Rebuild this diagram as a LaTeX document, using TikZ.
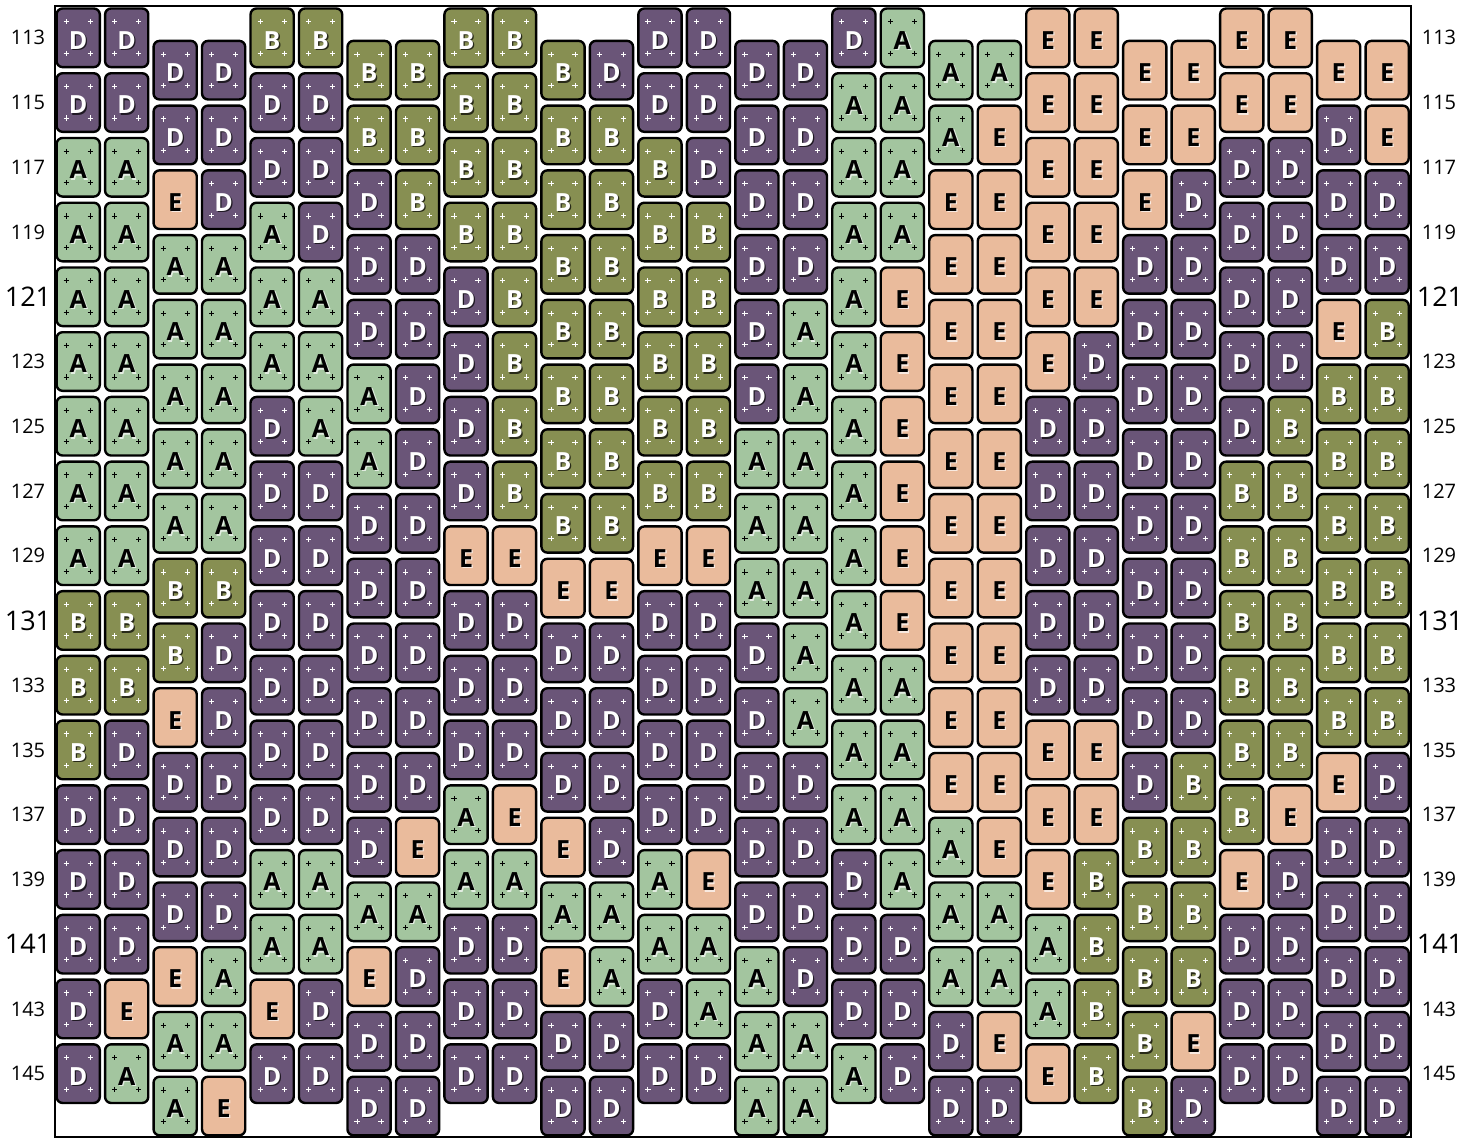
\documentclass[tikz,border=0pt]{standalone}
\usepackage{fontspec}
\setmainfont{Open Sans}
\definecolor{cA}{HTML}{A3C59F}
\definecolor{cB}{HTML}{878F52}
\definecolor{cD}{HTML}{6A5578}
\definecolor{cE}{HTML}{EABB9C}
\colorlet{fgA}{black}\colorlet{fgE}{black}\colorlet{fgB}{white}\colorlet{fgD}{white}
\colorlet{shA}{white}\colorlet{shE}{white}\colorlet{shB}{black}\colorlet{shD}{black}
\colorlet{mkA}{black}\colorlet{mkB}{white}\colorlet{mkD}{white}\colorlet{mkE}{white}
\tikzset{
  tilebox/.style={draw=black, line width=2.4pt, rounded corners=6pt, minimum width=43.2pt, minimum height=58.6pt, inner sep=0pt},
  glyph/.style={inner sep=0pt, font=\fontsize{25}{25}\selectfont\bfseries},
  pm/.style={line width=1pt},
  lab/.style={inner sep=0pt, font=\fontsize{20}{20}\selectfont},
  labbig/.style={inner sep=0pt, font=\fontsize{27}{27}\selectfont},
  frame/.style={draw=black, line width=2pt}
}
\newcommand\mytile[4]{%
  \pgfmathsetmacro\tx{78.2+48.48*(#1-1)}%
  \pgfmathsetmacro\ty{37.8+32.37*(#2+2*#3)}%
  \node[tilebox, fill=c#4] (t#1-#3) at (\tx,\ty) {};%
  \node[glyph, text=sh#4, opacity=0.7] (s#1-#3) at ([shift={(1.3,4)}]t#1-#3.center) {#4};%
  \node[glyph, text=fg#4] (g#1-#3) at ([shift={(0,2.5)}]t#1-#3.center) {#4};%
  \if E#4\else
    \foreach \mx/\my in {-12/-16,12/-16,-12/15.5,12/15.5}{%
      \draw[pm, draw=mk#4] ([shift={(\mx-2.6,\my)}]t#1-#3.center) -- ++(5.2,0)
        ([shift={(\mx,\my-2.6)}]t#1-#3.center) -- ++(0,5.2);}%
  \fi}
\newcommand\mkcol[3]{\foreach \L [count=\k from 0] in {#3} {\edef\tmp{\noexpand\mytile{#1}{#2}{\k}{\L}}\tmp}}
\begin{document}
\begin{tikzpicture}[x=1pt,y=-1pt]
\useasboundingbox (0,0) rectangle (1478,1140);
\fill[white] (0,0) rectangle (1478,1140);
\draw[frame] (55,6) rectangle (1411,1137);
\mkcol{1}{0}{D,D,A,A,A,A,A,A,A,B,B,B,D,D,D,D,D}
\mkcol{2}{0}{D,D,A,A,A,A,A,A,A,B,B,D,D,D,D,E,A}
\mkcol{3}{1}{D,D,E,A,A,A,A,A,B,B,E,D,D,D,E,A,A}
\mkcol{4}{1}{D,D,D,A,A,A,A,A,B,D,D,D,D,D,A,A,E}
\mkcol{5}{0}{B,D,D,A,A,A,D,D,D,D,D,D,D,A,A,E,D}
\mkcol{6}{0}{B,D,D,D,A,A,A,D,D,D,D,D,D,A,A,D,D}
\mkcol{7}{1}{B,B,D,D,D,A,A,D,D,D,D,D,D,A,E,D,D}
\mkcol{8}{1}{B,B,B,D,D,D,D,D,D,D,D,D,E,A,D,D,D}
\mkcol{9}{0}{B,B,B,B,D,D,D,D,E,D,D,D,A,A,D,D,D}
\mkcol{10}{0}{B,B,B,B,B,B,B,B,E,D,D,D,E,A,D,D,D}
\mkcol{11}{1}{B,B,B,B,B,B,B,B,E,D,D,D,E,A,E,D,D}
\mkcol{12}{1}{D,B,B,B,B,B,B,B,E,D,D,D,D,A,A,D,D}
\mkcol{13}{0}{D,D,B,B,B,B,B,B,E,D,D,D,D,A,A,D,D}
\mkcol{14}{0}{D,D,D,B,B,B,B,B,E,D,D,D,D,E,A,A,D}
\mkcol{15}{1}{D,D,D,D,D,D,A,A,A,D,D,D,D,D,A,A,A}
\mkcol{16}{1}{D,D,D,D,A,A,A,A,A,A,A,D,D,D,D,A,A}
\mkcol{17}{0}{D,A,A,A,A,A,A,A,A,A,A,A,A,D,D,D,A}
\mkcol{18}{0}{A,A,A,A,E,E,E,E,E,E,A,A,A,A,D,D,D}
\mkcol{19}{1}{A,A,E,E,E,E,E,E,E,E,E,E,A,A,A,D,D}
\mkcol{20}{1}{A,E,E,E,E,E,E,E,E,E,E,E,E,A,A,E,D}
\mkcol{21}{0}{E,E,E,E,E,E,D,D,D,D,D,E,E,E,A,A,E}
\mkcol{22}{0}{E,E,E,E,E,D,D,D,D,D,D,E,E,B,B,B,B}
\mkcol{23}{1}{E,E,E,D,D,D,D,D,D,D,D,D,B,B,B,B,B}
\mkcol{24}{1}{E,E,D,D,D,D,D,D,D,D,D,B,B,B,B,E,D}
\mkcol{25}{0}{E,E,D,D,D,D,D,B,B,B,B,B,B,E,D,D,D}
\mkcol{26}{0}{E,E,D,D,D,D,B,B,B,B,B,B,E,D,D,D,D}
\mkcol{27}{1}{E,D,D,D,E,B,B,B,B,B,B,E,D,D,D,D,D}
\mkcol{28}{1}{E,E,D,D,B,B,B,B,B,B,B,D,D,D,D,D,D}
\foreach \r in {113,115,117,119,123,125,127,129,133,135,137,139,143,145}{
  \pgfmathsetmacro\ly{37.8+32.37*(\r-113)}
  \node[lab] (lL\r) at (28,\ly) {\r};
  \node[lab] (lR\r) at (1439,\ly) {\r};
}
\foreach \r in {121,131,141}{
  \pgfmathsetmacro\ly{37.8+32.37*(\r-113)}
  \node[labbig] (lL\r) at (28,\ly) {\r};
  \node[labbig] (lR\r) at (1440,\ly) {\r};
}
\end{tikzpicture}
\end{document}
